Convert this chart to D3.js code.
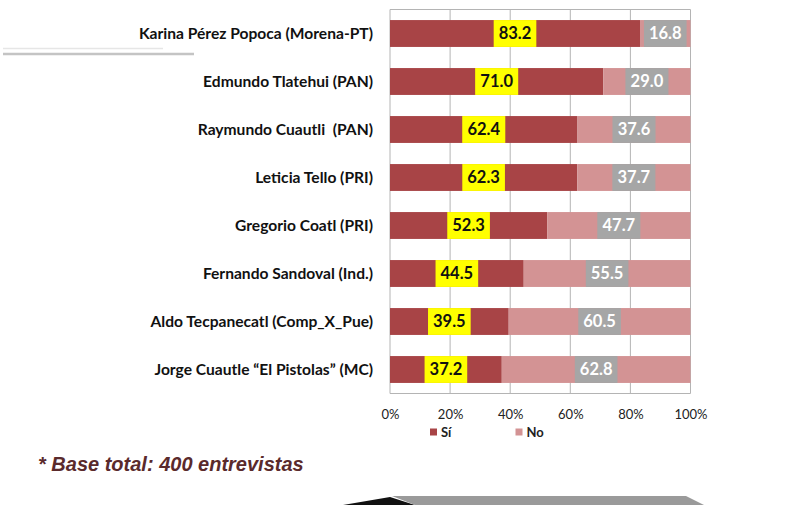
<!DOCTYPE html>
<html>
<head>
<meta charset="utf-8">
<script src="https://cdn.jsdelivr.net/npm/d3@7"></script>
<style>
  body { margin: 0; background: #fff; }
  svg { display: block; }
</style>
</head>
<body>
<div id="chart"></div>
<script>
var candidates = [
  'Karina Pérez Popoca (Morena-PT)',
  'Edmundo Tlatehui (PAN)',
  'Raymundo Cuautli  (PAN)',
  'Leticia Tello (PRI)',
  'Gregorio Coatl (PRI)',
  'Fernando Sandoval (Ind.)',
  'Aldo Tecpanecatl (Comp_X_Pue)',
  'Jorge Cuautle \u201cEl Pistolas\u201d (MC)'
];
var si = [83.2, 71.0, 62.4, 62.3, 52.3, 44.5, 39.5, 37.2];
var no = [16.8, 29.0, 37.6, 37.7, 47.7, 55.5, 60.5, 62.8];
var ticks = [0, 20, 40, 60, 80, 100];
var seriesNames = ['Sí', 'No'];

var width = 800,
    height = 505;

var svg = d3.select('#chart').append('svg').attr('width', width).attr('height', height);

var xScale = d3.scaleLinear().domain([0, 100]).range([390, 690.5]);
var yScale = d3.scaleBand().domain(candidates).range([9.5, 393.5])
  .paddingInner(0.44).paddingOuter(0.22);

var color = { 'Sí': '#a84446', 'No': '#d39394' };
var font = 'Lato, Calibri, Carlito, sans-serif';

// decorative lines top-left
svg.append('line').attr('x1', 3).attr('x2', 163).attr('y1', 48.5).attr('y2', 48.5)
  .attr('stroke', '#e6e6e6').attr('stroke-width', 1.5);
svg.append('line').attr('x1', 3).attr('x2', 194).attr('y1', 54).attr('y2', 54)
  .attr('stroke', '#c4c4c4').attr('stroke-width', 2.5);

// grid + frame
svg.append('g').selectAll('line').data(ticks).join('line')
  .attr('x1', function(d) { return xScale(d); })
  .attr('x2', function(d) { return xScale(d); })
  .attr('y1', 9.5).attr('y2', 393.5)
  .attr('stroke', '#b4b4b4').attr('stroke-width', 1);
svg.append('line').attr('x1', xScale(0)).attr('x2', xScale(100)).attr('y1', 9.5).attr('y2', 9.5)
  .attr('stroke', '#b4b4b4');
svg.append('line').attr('x1', xScale(0)).attr('x2', xScale(100)).attr('y1', 393.5).attr('y2', 393.5)
  .attr('stroke', '#b4b4b4');

var rows = candidates.map(function(c, i) { return { name: c, si: si[i], no: no[i] }; });

// bars
var bars = svg.append('g');
bars.selectAll('.si').data(rows).join('rect')
  .attr('x', xScale(0))
  .attr('y', function(d) { return yScale(d.name); })
  .attr('width', function(d) { return xScale(d.si) - xScale(0); })
  .attr('height', yScale.bandwidth())
  .attr('fill', color['Sí']);
bars.selectAll('.no').data(rows).join('rect')
  .attr('x', function(d) { return xScale(d.si); })
  .attr('y', function(d) { return yScale(d.name); })
  .attr('width', function(d) { return xScale(d.si + d.no) - xScale(d.si); })
  .attr('height', yScale.bandwidth())
  .attr('fill', color['No']);

// value labels with boxes
function addLabels(key, start, fill, textColor) {
  var g = svg.append('g').selectAll('g').data(rows).join('g')
    .attr('transform', function(d) {
      var mid = start(d) + d[key] / 2;
      return 'translate(' + xScale(mid) + ',' + (yScale(d.name) + yScale.bandwidth() / 2) + ')';
    });
  var t = g.append('text')
    .attr('text-anchor', 'middle')
    .attr('dy', '0.36em')
    .attr('font-family', font)
    .attr('font-weight', 'bold')
    .attr('font-size', 16.5)
    .attr('fill', textColor)
    .text(function(d) { return d[key].toFixed(1); });
  t.each(function() {
    var bb = this.getBBox();
    d3.select(this.parentNode).insert('rect', 'text')
      .attr('x', -bb.width / 2 - 5)
      .attr('y', -yScale.bandwidth() / 2)
      .attr('width', bb.width + 10)
      .attr('height', yScale.bandwidth())
      .attr('fill', fill);
  });
}
addLabels('si', function() { return 0; }, '#ffff00', '#111');
addLabels('no', function(d) { return d.si; }, '#a6a6a6', '#fff');

// candidate names
svg.append('g').selectAll('text').data(candidates).join('text')
  .attr('x', 373)
  .attr('y', function(d) { return yScale(d) + yScale.bandwidth() / 2; })
  .attr('dy', '0.36em')
  .attr('text-anchor', 'end')
  .attr('font-family', font)
  .attr('font-weight', 'bold')
  .attr('font-size', 15.6)
  .attr('fill', '#111')
  .style('white-space', 'pre')
  .text(function(d) { return d; });

// x axis
var xAxis = d3.axisBottom(xScale).tickValues(ticks).tickSize(0)
  .tickFormat(function(d) { return d + '%'; });
var xg = svg.append('g').attr('transform', 'translate(0,419)').call(xAxis);
xg.select('.domain').remove();
xg.selectAll('text').attr('y', 0).attr('dy', 0)
  .attr('font-family', font).attr('font-size', 13).attr('fill', '#222');

// legend
var legend = svg.append('g').selectAll('g').data(seriesNames).join('g')
  .attr('transform', function(d, i) { return 'translate(' + (430 + i * 85.5) + ',428.5)'; });
legend.append('rect').attr('width', 7).attr('height', 7)
  .attr('fill', function(d) { return color[d]; });
legend.append('text').attr('x', 11).attr('y', 8.5)
  .attr('font-family', font).attr('font-weight', 'bold').attr('font-size', 13)
  .attr('fill', '#222').text(function(d) { return d; });

// footnote
svg.append('text').attr('x', 38).attr('y', 471)
  .attr('font-family', '"Liberation Sans Narrow", "Arial Narrow", sans-serif')
  .attr('font-weight', 'bold').attr('font-style', 'italic')
  .attr('font-size', 20).attr('fill', '#5a2a2c')
  .text('* Base total: 400 entrevistas');

// decorative shape at bottom
svg.append('path').attr('d', 'M343,505 L390,497 L415,505 Z').attr('fill', '#111');
svg.append('path').attr('d', 'M392,496 L686,496 L704,505 L415,505 Z').attr('fill', '#9a9a9a');
</script>
</body>
</html>
